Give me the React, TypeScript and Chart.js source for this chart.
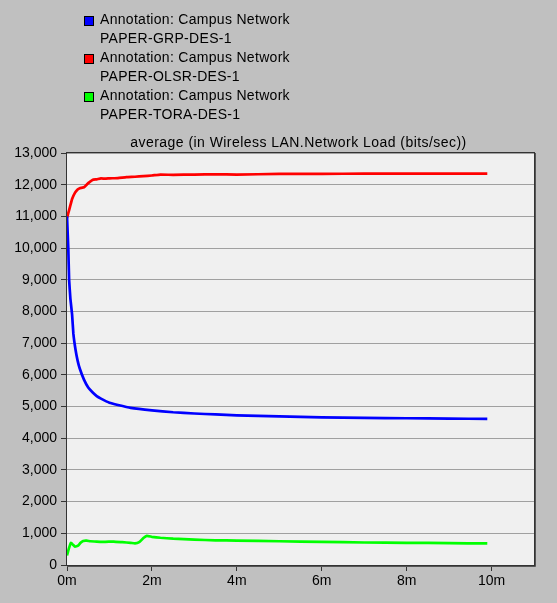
import React, { useEffect, useRef } from "react";
import { Chart, registerables } from "chart.js";
Chart.register(...registerables);

const seriesNames = ["PAPER-GRP-DES-1", "PAPER-OLSR-DES-1", "PAPER-TORA-DES-1"];
const annotation = "Annotation: Campus Network";
const chartTitle = "average (in Wireless LAN.Network Load (bits/sec))";
const seriesColors = ["#0000ff", "#ff0000", "#00ff00"];

const grpTimes = [0, 0.03, 0.05, 0.08, 0.12, 0.15, 0.2, 0.25, 0.3, 0.4, 0.5, 0.6, 0.7, 0.8, 1.0, 1.2, 1.5, 2.0, 2.5, 3.0, 3.5, 4.0, 5.0, 6.0, 7.0, 8.0, 9.0, 9.9];
const grpValues = [11000, 10000, 9000, 8400, 7900, 7300, 6800, 6450, 6200, 5850, 5600, 5450, 5330, 5250, 5120, 5050, 4960, 4880, 4820, 4780, 4750, 4720, 4690, 4660, 4640, 4630, 4620, 4610];

const olsrTimes = [0, 0.03, 0.07, 0.12, 0.19, 0.25, 0.3, 0.4, 0.5, 0.6, 0.7, 0.8, 0.9, 1.0, 1.2, 1.4, 1.6, 1.8, 2.0, 2.2, 2.5, 3.0, 3.5, 4.0, 5.0, 6.0, 7.0, 8.0, 9.0, 9.9];
const olsrValues = [10950, 11100, 11300, 11550, 11750, 11850, 11890, 11920, 12050, 12150, 12170, 12200, 12190, 12200, 12210, 12240, 12250, 12270, 12290, 12320, 12310, 12320, 12330, 12320, 12340, 12340, 12350, 12350, 12350, 12350];

const toraTimes = [0, 0.04, 0.09, 0.14, 0.19, 0.26, 0.32, 0.38, 0.46, 0.55, 0.7, 0.9, 1.1, 1.3, 1.5, 1.6, 1.7, 1.8, 1.88, 2.0, 2.2, 2.5, 3.0, 3.5, 4.0, 5.0, 6.0, 7.0, 8.0, 9.0, 9.9];
const toraValues = [300, 500, 700, 640, 580, 610, 700, 760, 770, 750, 740, 730, 740, 720, 700, 680, 720, 850, 920, 890, 860, 830, 800, 780, 770, 750, 730, 710, 700, 690, 680];

const xTickLabels = ["0m", "2m", "4m", "6m", "8m", "10m"];
const xMax = 11;
const yMax = 13000;

const FONT = "'Liberation Sans', Arial, sans-serif";

function pts(t: number[], v: number[]) {
  return t.map((x, i) => ({ x, y: v[i] }));
}

export default function App() {
  const ref = useRef<HTMLCanvasElement | null>(null);
  useEffect(() => {
    document.body.style.margin = "0";
    const frame = {
      id: "frame",
      beforeDraw(chart: any) {
        const { ctx, chartArea: a } = chart;
        ctx.save();
        ctx.fillStyle = "#f0f0f0";
        ctx.fillRect(a.left, a.top, a.right - a.left, a.bottom - a.top);
        ctx.restore();
      },
      afterDraw(chart: any) {
        const { ctx, chartArea: a } = chart;
        ctx.save();
        ctx.strokeStyle = "#333333";
        ctx.lineWidth = 1;
        ctx.strokeRect(Math.round(a.left) - 0.5, Math.round(a.top) - 0.5, Math.round(a.right - a.left) + 1, Math.round(a.bottom - a.top) + 1);
        ctx.strokeStyle = "#555555";
        ctx.beginPath();
        ctx.moveTo(Math.round(a.right) + 1.5, Math.round(a.top));
        ctx.lineTo(Math.round(a.right) + 1.5, Math.round(a.bottom) + 1.5);
        ctx.lineTo(Math.round(a.left), Math.round(a.bottom) + 1.5);
        ctx.stroke();
        ctx.restore();
      },
    };
    const chart = new Chart(ref.current as HTMLCanvasElement, {
      type: "line",
      data: {
        datasets: [
          { label: seriesNames[0], data: pts(grpTimes, grpValues), borderColor: seriesColors[0], backgroundColor: seriesColors[0] },
          { label: seriesNames[1], data: pts(olsrTimes, olsrValues), borderColor: seriesColors[1], backgroundColor: seriesColors[1] },
          { label: seriesNames[2], data: pts(toraTimes, toraValues), borderColor: seriesColors[2], backgroundColor: seriesColors[2] },
        ],
      },
      options: {
        animation: false,
        responsive: false,
        devicePixelRatio: 1,
        layout: { padding: { top: 153, right: 23, left: 0, bottom: 0 } },
        elements: { point: { radius: 0 }, line: { borderWidth: 2.7, tension: 0.1 } },
        plugins: { legend: { display: false }, title: { display: false }, tooltip: { enabled: false } },
        scales: {
          x: {
            type: "linear",
            min: 0,
            max: xMax,
            afterFit(s: any) { s.height = 38; },
            border: { display: false },
            grid: { drawOnChartArea: false, tickLength: 6, tickColor: "#333333" },
            ticks: {
              stepSize: 2,
              includeBounds: false,
              padding: 2,
              color: "#000",
              font: { family: FONT, size: 14 },
              maxRotation: 0,
              callback: (v: any) => { const i = Math.round(Number(v) / 2); return Number(v) % 2 === 0 ? xTickLabels[i] : null; },
            },
          },
          y: {
            min: 0,
            max: yMax,
            afterFit(s: any) { s.width = 67; },
            border: { display: false },
            grid: { color: "#a0a0a0", tickLength: 6, tickColor: "#333333", lineWidth: 1 },
            ticks: {
              stepSize: 1000,
              padding: 4,
              color: "#000",
              font: { family: FONT, size: 14 },
              callback: (v: any) => Number(v).toLocaleString("en-US"),
            },
          },
        },
      },
      plugins: [frame],
    } as any);
    return () => chart.destroy();
  }, []);

  const textStyle: React.CSSProperties = { fontFamily: FONT, fontSize: 14, lineHeight: "19px", color: "#000", whiteSpace: "nowrap", letterSpacing: "0.3px" };

  return (
    <div style={{ position: "absolute", left: 0, top: 0, width: 557, height: 603, background: "#c0c0c0", overflow: "hidden" }}>
      <canvas ref={ref} width={557} height={603} style={{ position: "absolute", left: 0, top: 0, width: 557, height: 603 }} />
      <div style={{ position: "absolute", left: 0, top: 10 }}>
        {seriesNames.map((n, i) => (
          <div key={n} style={{ position: "relative", height: 38 }}>
            <div style={{ position: "absolute", left: 84, top: 6, width: 8, height: 8, background: seriesColors[i], border: "1px solid #000" }} />
            <div style={{ ...textStyle, position: "absolute", left: 100, top: 0 }}>{annotation}</div>
            <div style={{ ...textStyle, position: "absolute", left: 100, top: 19 }}>{n}</div>
          </div>
        ))}
      </div>
      <div style={{ ...textStyle, letterSpacing: "0.45px", position: "absolute", left: 0, width: 597, top: 133, textAlign: "center" }}>{chartTitle}</div>
    </div>
  );
}
